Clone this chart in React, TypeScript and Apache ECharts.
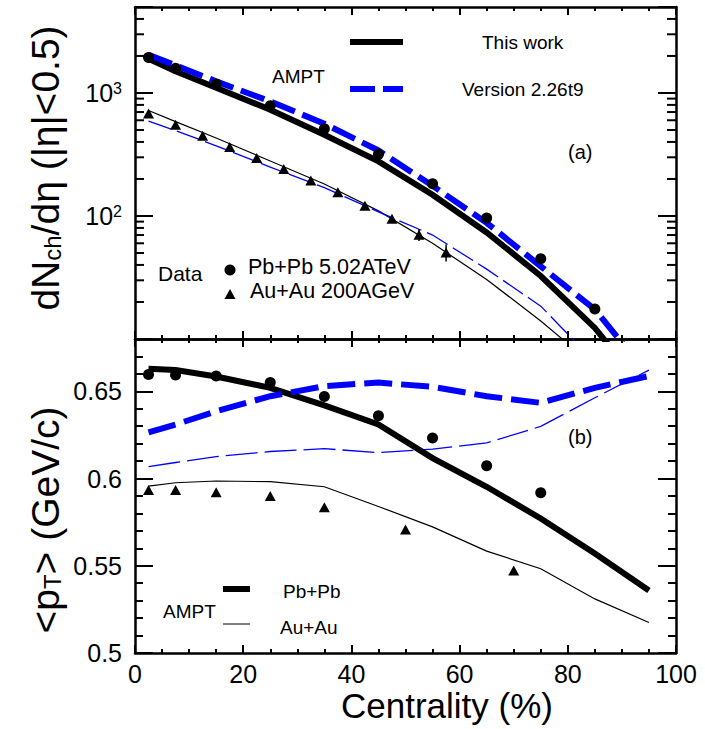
import React, { useEffect, useRef } from 'react';
import * as echarts from 'echarts';

const FONT = '"Liberation Sans", Arial, Helvetica, sans-serif';

// ---------- Data ----------
const modelCent = [2.5, 7.5, 15, 25, 35, 45, 55, 65, 75, 85, 95];

// (a) dNch/deta
const pbDataCent = [2.5, 7.5, 15, 25, 35, 45, 55, 65, 75, 85];
const pbDataMult = [1943, 1587, 1180, 786, 512, 318, 183, 96.3, 44.9, 17.5];
const auDataCent = [2.5, 7.5, 12.5, 17.5, 22.5, 27.5, 32.5, 37.5, 42.5, 47.5, 52.5, 57.5];
const auDataMult = [680, 552, 450, 364, 296, 241, 194, 156, 121, 95, 70.5, 50.6];
const auDataMultErr = [0, 0, 0, 0, 0, 0, 0, 0, 0, 5, 8, 8];

const pbThisMult = [1901, 1499, 1104, 731, 458, 278, 149, 73.5, 32.5, 12.3, 3.5];
const pbV226Mult = [2048, 1676, 1243, 855, 562, 341, 176, 88, 39, 17.4, 5];
const auThisMult = [720, 585, 430, 280, 182, 110, 60, 30.5, 14, 6, 2.5];
const auV226Mult = [590, 495, 372, 250, 170, 108, 70, 37, 18.5, 6.5, 2.5];

// (b) <pT>
const pbDataPtCent = [2.5, 7.5, 15, 25, 35, 45, 55, 65, 75];
const pbDataPt = [0.6597, 0.6593, 0.6588, 0.655, 0.647, 0.636, 0.6232, 0.6073, 0.5919];
const auDataPtCent = [2.5, 7.5, 15, 25, 35, 50, 70];
const auDataPt = [0.5934, 0.5934, 0.5921, 0.59, 0.5836, 0.5708, 0.5473];

const pbThisPt = [0.663, 0.6622, 0.6585, 0.652, 0.6419, 0.631, 0.6117, 0.5953, 0.5771, 0.557, 0.5358];
const pbV226Pt = [0.6265, 0.631, 0.6386, 0.6472, 0.653, 0.655, 0.6526, 0.6472, 0.6434, 0.652, 0.6588];
const auThisPt = [0.5957, 0.5976, 0.5986, 0.5982, 0.5953, 0.584, 0.5723, 0.5584, 0.5483, 0.531, 0.5175];
const auV226Pt = [0.6069, 0.6092, 0.6126, 0.6155, 0.6171, 0.6149, 0.6169, 0.6204, 0.6299, 0.6463, 0.6622];

// axis ticks
const logMinorTicks = [20, 30, 40, 50, 60, 70, 80, 90, 200, 300, 400, 500, 600, 700, 800, 900, 2000, 3000, 4000];

function pairs(xs: number[], ys: number[]) {
  return xs.map((x, i) => [x, ys[i]]);
}

export default function App() {
  const ref = useRef<HTMLDivElement>(null);

  useEffect(() => {
    const chart = echarts.init(ref.current!, null, { renderer: 'svg' });
    const black = '#000000';
    const blue = '#0000ff';
    const frame = { show: true, onZero: false, lineStyle: { color: black, width: 2.5 } };
    const tickStyle = { color: black, width: 2 };

    const xAxisDef = (gridIndex: number, position: string, showLabel: boolean) => ({
      type: 'value',
      gridIndex,
      position,
      min: 0,
      max: 100,
      interval: 20,
      axisLine: frame,
      axisTick: { show: true, inside: true, length: 8, lineStyle: tickStyle },
      minorTick: { show: true, splitNumber: 4, length: 4, lineStyle: tickStyle },
      axisLabel: showLabel
        ? { show: true, fontSize: 25, color: black, fontFamily: FONT, margin: 8 }
        : { show: false },
      splitLine: { show: false },
      minorSplitLine: { show: false },
    });

    const logYAxis = (position: string, showLabel: boolean) => ({
      type: 'log',
      logBase: 10,
      gridIndex: 0,
      position,
      min: 10,
      max: 5000,
      axisLine: frame,
      axisTick: { show: true, inside: true, length: 18, lineStyle: tickStyle },
      minorTick: { show: false },
      splitLine: { show: false },
      axisLabel: showLabel
        ? {
            show: true,
            margin: 13,
            formatter: (v: number) => {
              const e = Math.round(Math.log10(v));
              if (Math.abs(v - Math.pow(10, e)) > 1e-6 * v || e < 2 || e > 3) return '';
              return `{m|10}{s|${e}}`;
            },
            rich: {
              m: { fontSize: 25, fontFamily: FONT, color: black, lineHeight: 25, padding: [8, 0, 0, 0], verticalAlign: 'bottom' },
              s: { fontSize: 16, fontFamily: FONT, color: black, lineHeight: 16, verticalAlign: 'top' },
            },
          }
        : { show: false },
    });

    const ptYAxis = (position: string, showLabel: boolean, minor: boolean) => ({
      type: 'value',
      gridIndex: 1,
      position,
      min: 0.5,
      max: 0.68,
      interval: minor ? 0.01 : 0.05,
      axisLine: minor ? { show: false, onZero: false } : frame,
      axisTick: { show: true, inside: true, length: minor ? 8 : 18, lineStyle: tickStyle },
      minorTick: { show: false },
      splitLine: { show: false },
      axisLabel: showLabel
        ? {
            show: true,
            margin: 13,
            fontSize: 25,
            color: black,
            fontFamily: FONT,
            formatter: (v: number) => {
              const k = Math.round(v * 100);
              if (k % 5 !== 0 || k > 65) return '';
              return String(+v.toFixed(2));
            },
          }
        : { show: false },
    });

    const lineSeries = (
      xAxisIndex: number,
      yAxisIndex: number,
      xs: number[],
      ys: number[],
      color: string,
      width: number,
      dash?: number[]
    ) => ({
      type: 'line',
      xAxisIndex,
      yAxisIndex,
      data: pairs(xs, ys),
      symbol: 'none',
      showSymbol: false,
      clip: true,
      z: 3,
      lineStyle: { color, width, type: dash ? dash : 'solid', cap: 'butt', join: 'miter' },
    });

    const scatterSeries = (
      xAxisIndex: number,
      yAxisIndex: number,
      xs: number[],
      ys: number[],
      symbol: string,
      size: number | number[]
    ) => ({
      type: 'scatter',
      xAxisIndex,
      yAxisIndex,
      data: pairs(xs, ys),
      symbol,
      symbolSize: size,
      z: 5,
      itemStyle: { color: black, opacity: 1 },
    });

    const text = (x: number, y: number, s: string, fontSize: number, align = 'left') => ({
      type: 'text',
      x,
      y,
      silent: true,
      style: {
        text: s,
        fontSize,
        fontFamily: FONT,
        fill: black,
        align,
        verticalAlign: 'middle',
        textAlign: align,
        textVerticalAlign: 'middle',
      },
    });

    const legendLine = (x1: number, x2: number, y: number, color: string, width: number, dash?: number[]) => ({
      type: 'line',
      silent: true,
      shape: { x1, y1: y, x2, y2: y },
      style: { stroke: color, lineWidth: width, lineDash: dash || null, lineCap: 'butt' },
    });

    const ySubTitle = (x: number, y: number, richText: string) => ({
      type: 'text',
      x,
      y,
      rotation: Math.PI / 2,
      silent: true,
      style: {
        text: richText,
        align: 'center',
        verticalAlign: 'middle',
        textAlign: 'center',
        textVerticalAlign: 'middle',
        fill: black,
        rich: {
          m: { fontSize: 39, fontFamily: FONT, fill: black, lineHeight: 39, verticalAlign: 'top' },
          s: { fontSize: 24, fontFamily: FONT, fill: black, lineHeight: 24, padding: [22, 0, 0, 0], verticalAlign: 'bottom' },
        },
      },
    });

    const option: any = {
      animation: false,
      backgroundColor: '#ffffff',
      grid: [
        { left: 135, right: 29, top: 7, height: 332 },
        { left: 135, right: 29, top: 339, height: 314 },
      ],
      xAxis: [
        xAxisDef(1, 'bottom', true), // 0
        xAxisDef(0, 'bottom', false), // 1
        xAxisDef(0, 'top', false), // 2
        xAxisDef(1, 'top', false), // 3
      ],
      yAxis: [
        logYAxis('left', true), // 0
        logYAxis('right', false), // 1
        ptYAxis('left', true, false), // 2
        ptYAxis('right', false, false), // 3
        ptYAxis('left', false, true), // 4
        ptYAxis('right', false, true), // 5
      ],
      series: [
        // (a)
        lineSeries(1, 0, modelCent, auThisMult, black, 1.2),
        lineSeries(1, 0, modelCent, auV226Mult, blue, 1.3, [24, 6]),
        lineSeries(1, 0, modelCent, pbThisMult, black, 6),
        lineSeries(1, 0, modelCent, pbV226Mult, blue, 6, [25, 8]),
        scatterSeries(1, 0, pbDataCent, pbDataMult, 'circle', 11),
        scatterSeries(1, 0, auDataCent, auDataMult, 'triangle', [11, 10]),
        {
          type: 'custom',
          xAxisIndex: 1,
          yAxisIndex: 0,
          z: 4,
          silent: true,
          data: auDataCent
            .map((c, i) => [c, auDataMult[i] - auDataMultErr[i], auDataMult[i] + auDataMultErr[i], auDataMultErr[i]])
            .filter((d) => d[3] > 0),
          encode: { x: 0, y: [1, 2] },
          renderItem: (params: any, api: any) => {
            const lo = api.coord([api.value(0), api.value(1)]);
            const hi = api.coord([api.value(0), api.value(2)]);
            return {
              type: 'line',
              shape: { x1: lo[0], y1: lo[1], x2: hi[0], y2: hi[1] },
              style: { stroke: black, lineWidth: 1.5 },
            };
          },
        },
        {
          type: 'custom',
          xAxisIndex: 1,
          yAxisIndex: 0,
          z: 6,
          silent: true,
          clip: false,
          data: logMinorTicks.map((v) => [0, v]),
          encode: { x: 0, y: 1 },
          renderItem: (params: any, api: any) => {
            const l = api.coord([0, api.value(1)]);
            const r = api.coord([100, api.value(1)]);
            return {
              type: 'group',
              children: [
                { type: 'line', shape: { x1: l[0], y1: l[1], x2: l[0] + 9, y2: l[1] }, style: { stroke: black, lineWidth: 2 } },
                { type: 'line', shape: { x1: r[0] - 9, y1: r[1], x2: r[0], y2: r[1] }, style: { stroke: black, lineWidth: 2 } },
              ],
            };
          },
        },
        // (b)
        lineSeries(0, 2, modelCent, auThisPt, black, 1.2),
        lineSeries(0, 2, modelCent, auV226Pt, blue, 1.3, [32, 7]),
        lineSeries(0, 2, modelCent, pbThisPt, black, 6),
        lineSeries(0, 2, modelCent, pbV226Pt, blue, 6, [28, 9]),
        scatterSeries(0, 2, pbDataPtCent, pbDataPt, 'circle', 11),
        scatterSeries(0, 2, auDataPtCent, auDataPt, 'triangle', [11, 10]),
      ],
      graphic: [
        // top legend
        legendLine(350, 403, 42, black, 6),
        text(482, 42, 'This work', 19),
        legendLine(350, 403, 89, blue, 6, [25, 8]),
        text(462, 89, 'Version 2.26t9', 19),
        text(272, 76, 'AMPT', 19),
        text(568, 152, '(a)', 20),
        text(158, 273, 'Data', 21),
        { type: 'circle', silent: true, shape: { cx: 230, cy: 270, r: 5.5 }, style: { fill: black } },
        text(248, 267, 'Pb+Pb 5.02ATeV', 21.5),
        { type: 'polygon', silent: true, shape: { points: [[224.5, 299], [235.5, 299], [230, 289]] }, style: { fill: black } },
        text(250, 291, 'Au+Au 200AGeV', 21.5),
        // bottom legend
        text(568, 437, '(b)', 20),
        text(163, 611, 'AMPT', 19),
        legendLine(223, 250, 589, black, 6),
        legendLine(223, 250, 624, black, 1),
        text(283, 591, 'Pb+Pb', 19),
        text(280, 627, 'Au+Au', 19),
        // titles
        text(447, 705, 'Centrality (%)', 35, 'center'),
        ySubTitle(45, 168, '{m|dN}{s|ch}{m|/dη (|η|<0.5)}'),
        ySubTitle(45, 520, '{m|<p}{s|T}{m|> (GeV/c)}'),
      ],
    };

    chart.setOption(option);
    return () => {
      chart.dispose();
    };
  }, []);

  return (
    <div
      ref={ref}
      style={{ position: 'absolute', left: 0, top: 0, width: 705, height: 729, background: '#ffffff' }}
    />
  );
}
